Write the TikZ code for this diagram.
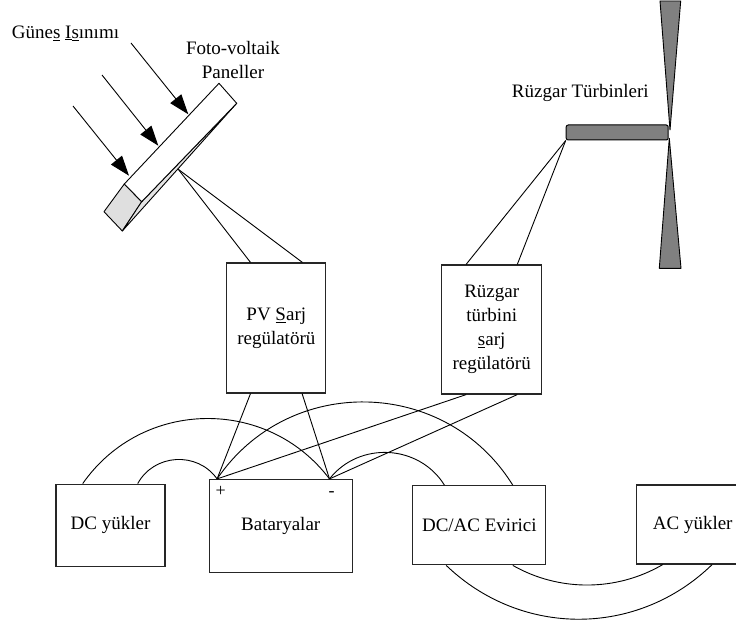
\documentclass[tikz,border=0pt]{standalone}
\usepackage{fontspec}
\setmainfont{Liberation Serif}
\usetikzlibrary{arrows.meta,positioning,calc}

\begin{document}
\begin{tikzpicture}[
  x=1pt, y=-1pt,
  unit/.style={draw=black!85, line width=1.2pt, fill=white, align=center, inner sep=2pt, font=\fontsize{19}{24}\selectfont},
  txt/.style={align=center, inner sep=0pt, font=\fontsize{19}{24}\selectfont},
  pole/.style={inner sep=0pt, font=\fontsize{18}{18}\selectfont},
  wire/.style={line width=0.9pt},
  ray/.style={line width=0.9pt, -{Triangle[length=20pt,width=14pt]}},
  part/.style={draw, line width=0.9pt, line join=round}
]
\useasboundingbox (0,0) rectangle (736,623);

% PV panel (end, underside, top face)
\filldraw[part, fill=gray!25] (124.3,184) -- (141.7,201.7) -- (122.3,231) -- (104,211.7) -- cycle;
\filldraw[part, fill=gray!20] (141.7,201.7) -- (236.7,103.3) -- (122.3,231) -- cycle;
\filldraw[part, fill=white] (124.3,184) -- (219,83.3) -- (236.7,103.3) -- (141.7,201.7) -- cycle;
\coordinate (pvout) at (178.3,169.3);

% sun rays
\foreach \sx/\sy/\tx/\ty [count=\i] in {131/43/188.3/114.3, 102/75/158.3/145.7, 73/106/129/175.7} {
  \coordinate (sun\i) at (\sx,\sy);
  \coordinate (hit\i) at (\tx,\ty);
  \draw[ray] (sun\i) -- (hit\i);
}

% wind turbine
\node[draw, fill=gray, line width=1pt, rounded corners=2pt, minimum width=102pt, minimum height=15pt, inner sep=0pt] (hub) at (617.2,132.5) {};
\filldraw[part, fill=gray] (660,1) -- (680.7,1) -- (670,130) -- cycle;
\filldraw[part, fill=gray] (669.3,138.3) -- (681,268.3) -- (659.3,268.3) -- cycle;

% labels
\node[txt] (sunlbl) at (65.5,33) {Güne\underline{s} \underline{I}\underline{s}ınımı};
\node[txt] (pvlbl) at (233,60) {Foto-voltaik\\Paneller};
\node[txt] (windlbl) at (580.3,93) {Rüzgar Türbinleri};

% regulators
\node[unit, minimum width=99pt, minimum height=130pt] (pvreg) at (276.3,328) {PV \underline{S}arj\\regülatörü};
\node[unit, minimum width=100pt, minimum height=129pt] (windreg) at (491.7,329.5) {Rüzgar\\türbini\\\underline{s}arj\\regülatörü};

% bottom row
\node[unit, minimum width=109pt, minimum height=82pt] (dcload) at (110.5,525.2) {DC yükler};
\node[unit, minimum width=143pt, minimum height=93pt] (batt) at (280.7,526) {Bataryalar};
\node[unit, minimum width=133pt, minimum height=79pt] (inv) at (479.3,525.3) {DC/AC Evirici};
\node[unit, minimum width=112pt, minimum height=79pt] (acload) at (692.7,524.5) {AC yükler};

% battery poles
\coordinate (bplus) at ([xshift=8.5pt]batt.north west);
\coordinate (bminus) at ([xshift=-23.3pt]batt.north east);
\node[pole] (plus) at (220.7,491) {+};
\node[pole] (minus) at (331.7,494) {-};

% wire ends on the boxes
\coordinate (pvA) at ([xshift=24.3pt]pvreg.north west);
\coordinate (pvB) at ([xshift=-24pt]pvreg.north east);
\coordinate (pvC) at ([xshift=24.3pt]pvreg.south west);
\coordinate (pvD) at ([xshift=-24.3pt]pvreg.south east);
\coordinate (wA) at ([xshift=25pt]windreg.north west);
\coordinate (wB) at ([xshift=-25pt]windreg.north east);
\coordinate (wC) at ([xshift=25pt]windreg.south west);
\coordinate (wD) at ([xshift=-25pt]windreg.south east);
\coordinate (dcA) at ([xshift=27.3pt]dcload.north west);
\coordinate (dcB) at ([xshift=82.3pt]dcload.north west);
\coordinate (invA) at ([xshift=32.3pt]inv.north west);
\coordinate (invB) at ([xshift=100.6pt]inv.north west);
\coordinate (invC) at ([xshift=34pt]inv.south west);
\coordinate (invD) at ([xshift=100.6pt]inv.south west);
\coordinate (acA) at ([xshift=26.6pt]acload.south west);
\coordinate (acB) at ([xshift=76pt]acload.south west);

% straight wires
\draw[wire] (pvout) -- (pvA);
\draw[wire] (pvout) -- (pvB);
\draw[wire] (hub.south west) -- (wA);
\draw[wire] (hub.south west) -- (wB);
\draw[wire] (pvC) -- (bplus);
\draw[wire] (pvD) -- (bminus);
\draw[wire] (wC) -- (bplus);
\draw[wire] (wD) -- (bminus);

% curved wires
\draw[wire] (dcB) to[bend left=58, looseness=1.1] (bplus);
\draw[wire] (dcA) to[bend left=54, looseness=1.07] (bminus);
\draw[wire] (bminus) to[bend left=55, looseness=1.07] (invA);
\draw[wire] (bplus) to[bend left=57, looseness=1.1] (invB);
\draw[wire] (invD) to[bend right=30, looseness=0.91] (acA);
\draw[wire] (invC) to[bend right=44, looseness=1] (acB);
\end{tikzpicture}
\end{document}
